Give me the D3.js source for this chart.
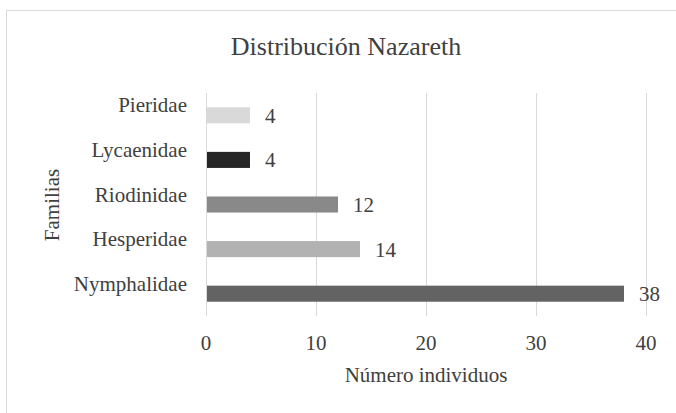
<!DOCTYPE html>
<html>
<head>
<meta charset="utf-8">
<script src="https://cdn.jsdelivr.net/npm/d3@7"></script>
<style>
  body { margin: 0; background: #fff; }
</style>
</head>
<body>
<div id="chart"></div>
<script>
var families = ['Pieridae', 'Lycaenidae', 'Riodinidae', 'Hesperidae', 'Nymphalidae'];
var counts = [4, 4, 12, 14, 38];
var barColors = ['#d9d9d9', '#262626', '#898989', '#b2b2b2', '#636363'];
var xTicks = [0, 10, 20, 30, 40];

var width = 676;
var height = 413;
var margin = {top: 93, right: 30, bottom: 97, left: 206};
var serif = "'Liberation Serif', 'Times New Roman', Times, 'DejaVu Serif', serif";

var svg = d3.select('#chart')
  .append('svg')
  .attr('width', width)
  .attr('height', height)
  .attr('font-family', serif);

// chart border (runs off the right and bottom edges)
svg.append('rect')
  .attr('x', 6.5)
  .attr('y', 10.5)
  .attr('width', 700)
  .attr('height', 450)
  .attr('fill', 'none')
  .attr('stroke', '#d9d9d9')
  .attr('stroke-width', 1);

var x = d3.scaleLinear()
  .domain([0, 40])
  .range([margin.left, 646]);

var y = d3.scaleBand()
  .domain(families)
  .range([margin.top, height - margin.bottom])
  .paddingInner(0.64)
  .paddingOuter(0.32);

var color = d3.scaleOrdinal()
  .domain(families)
  .range(barColors);

function label(sel) {
  return sel
    .attr('font-family', serif)
    .attr('font-size', 21)
    .attr('fill', '#404040');
}

// gridlines
svg.append('g')
  .selectAll('line')
  .data(xTicks)
  .enter()
  .append('line')
  .attr('x1', function(d) { return Math.round(x(d)) + 0.5; })
  .attr('x2', function(d) { return Math.round(x(d)) + 0.5; })
  .attr('y1', margin.top)
  .attr('y2', height - margin.bottom)
  .attr('stroke', '#d9d9d9')
  .attr('stroke-width', 1);

// bars
svg.append('g')
  .selectAll('rect')
  .data(families)
  .enter()
  .append('rect')
  .attr('x', x(0) + 1)
  .attr('y', function(d) { return y(d); })
  .attr('width', function(d, i) { return x(counts[i]) - x(0) - 1; })
  .attr('height', y.bandwidth())
  .attr('fill', function(d) { return color(d); });

// value labels
svg.append('g')
  .selectAll('text')
  .data(families)
  .enter()
  .append('text')
  .attr('x', function(d, i) { return x(counts[i]) + 15; })
  .attr('y', function(d) { return y(d) + y.bandwidth() / 2 + 7.5; })
  .call(label)
  .text(function(d, i) { return counts[i]; });

// category labels
svg.append('g')
  .selectAll('text')
  .data(families)
  .enter()
  .append('text')
  .attr('x', 187)
  .attr('y', function(d) { return y(d) + y.bandwidth() / 2 - 3; })
  .attr('text-anchor', 'end')
  .call(label)
  .text(function(d) { return d; });

// x tick labels
svg.append('g')
  .selectAll('text')
  .data(xTicks)
  .enter()
  .append('text')
  .attr('x', function(d) { return x(d); })
  .attr('y', 350)
  .attr('text-anchor', 'middle')
  .call(label)
  .text(function(d) { return d; });

// title
svg.append('text')
  .attr('x', 346)
  .attr('y', 55)
  .attr('text-anchor', 'middle')
  .call(label)
  .attr('font-size', 26)
  .text('Distribución Nazareth');

// axis titles
svg.append('text')
  .attr('x', (x(0) + x(40)) / 2)
  .attr('y', 382)
  .attr('text-anchor', 'middle')
  .call(label)
  .text('Número individuos');

svg.append('text')
  .attr('transform', 'translate(59,205) rotate(-90)')
  .attr('text-anchor', 'middle')
  .call(label)
  .text('Familias');
</script>
</body>
</html>
